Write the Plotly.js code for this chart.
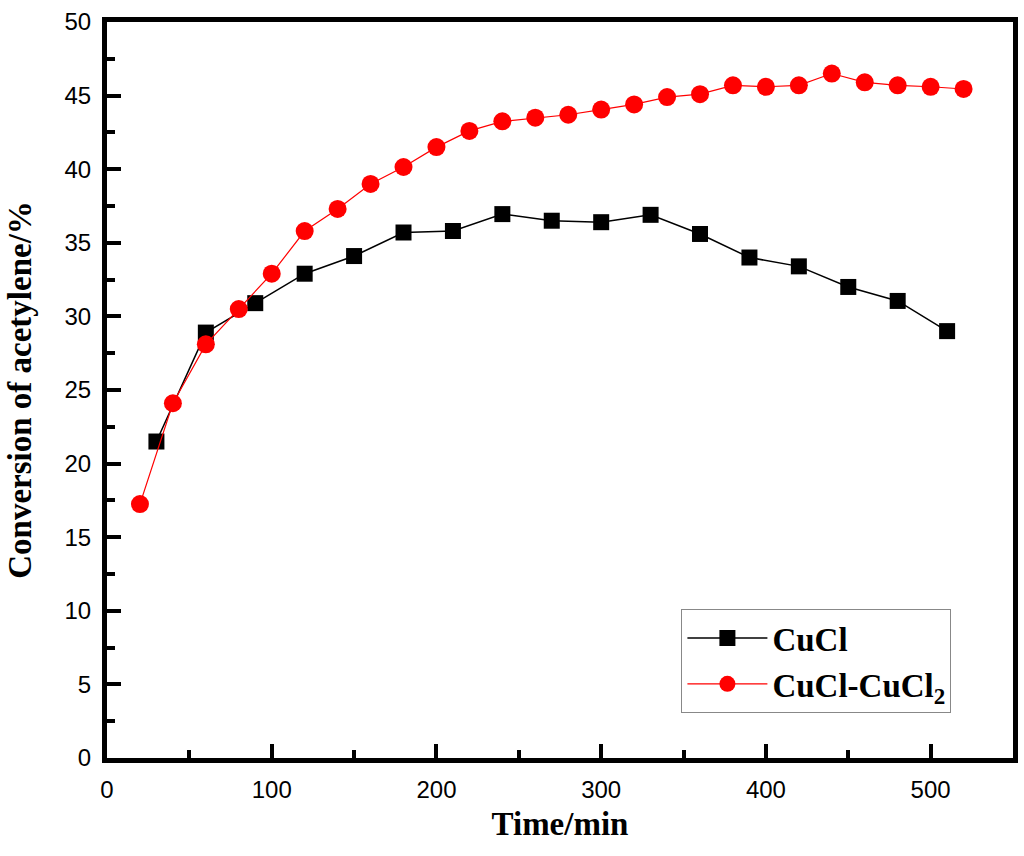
<!DOCTYPE html>
<html>
<head>
<meta charset="utf-8">
<script src="https://cdn.plot.ly/plotly-3.0.1.min.js"></script>
<style>
  html, body { margin: 0; padding: 0; background: #fff; }
  #chart { width: 1024px; height: 856px; }
</style>
</head>
<body>
<div id="chart"></div>
<script>
// CuCl vs CuCl-CuCl2 acetylene conversion over time
const cuclTime = [30, 60, 90, 120, 150, 180, 210, 240, 270, 300, 330, 360, 390, 420, 450, 480, 510];
const cuclConv = [21.5, 28.9, 30.9, 32.9, 34.1, 35.7, 35.8, 36.95, 36.5, 36.4, 36.9, 35.6, 34.0, 33.4, 32.0, 31.05, 29.0];

const mixTime = [20, 40, 60, 80, 100, 120, 140, 160, 180, 200, 220, 240, 260, 280, 300, 320, 340, 360, 380, 400, 420, 440, 460, 480, 500, 520];
const mixConv = [17.25, 24.1, 28.1, 30.5, 32.9, 35.8, 37.3, 39.0, 40.15, 41.5, 42.6, 43.25, 43.5, 43.7, 44.05, 44.4, 44.9, 45.1, 45.7, 45.6, 45.7, 46.5, 45.9, 45.7, 45.6, 45.45];

const xTicks = [0, 100, 200, 300, 400, 500];
const yTicks = [0, 5, 10, 15, 20, 25, 30, 35, 40, 45, 50];

const serifBold = "Liberation Serif, Times New Roman, serif";
const sans = "Liberation Sans, Arial, sans-serif";

const traces = [
  {
    type: "scatter", mode: "lines+markers", name: "CuCl",
    x: cuclTime, y: cuclConv,
    line: { color: "#000", width: 1.5 },
    marker: { symbol: "square", size: 16, color: "#000" },
  },
  {
    type: "scatter", mode: "lines+markers", name: "CuCl-CuCl<sub>2</sub>",
    x: mixTime, y: mixConv,
    line: { color: "#ff0000", width: 1.2 },
    marker: { symbol: "circle", size: 18, color: "#ff0000" },
  },
];

const axisCommon = {
  showline: true, linecolor: "#000", linewidth: 5, mirror: true,
  ticks: "inside", ticklen: 14, tickwidth: 4, tickcolor: "#000",
  showgrid: false, zeroline: false,
  tickfont: { family: sans, size: 24, color: "#000" },
};

const layout = {
  width: 1024, height: 856,
  margin: { l: 107, r: 11, t: 22, b: 98 },
  paper_bgcolor: "#fff", plot_bgcolor: "#fff",
  showlegend: true,
  xaxis: {
    ...axisCommon,
    range: [0, 550], tickvals: xTicks, ticktext: xTicks.map(String),
    ticklabelstandoff: 6,
    minor: { dtick: 50, ticks: "inside", ticklen: 8, tickwidth: 4, tickcolor: "#000" },
    title: { text: "Time/min", font: { family: serifBold, size: 33, color: "#000", weight: "bold" }, standoff: 12 },
  },
  yaxis: {
    ...axisCommon,
    range: [0, 50], tickvals: yTicks, ticktext: yTicks.map(String),
    ticklabelstandoff: 6,
    minor: { dtick: 2.5, ticks: "inside", ticklen: 8, tickwidth: 4, tickcolor: "#000" },
    title: { text: "Conversion of acetylene/%", font: { family: serifBold, size: 33, color: "#000", weight: "bold" }, standoff: 24 },
  },
  legend: {
    x: 0.634, y: 0.2025, xanchor: "left", yanchor: "top",
    bgcolor: "#fff", bordercolor: "#888", borderwidth: 1,
    font: { family: serifBold, size: 33, color: "#000", weight: "bold" },
    itemwidth: 80, tracegroupgap: 0,
  },
};

Plotly.newPlot("chart", traces, layout, { displayModeBar: false, staticPlot: true });
</script>
</body>
</html>
